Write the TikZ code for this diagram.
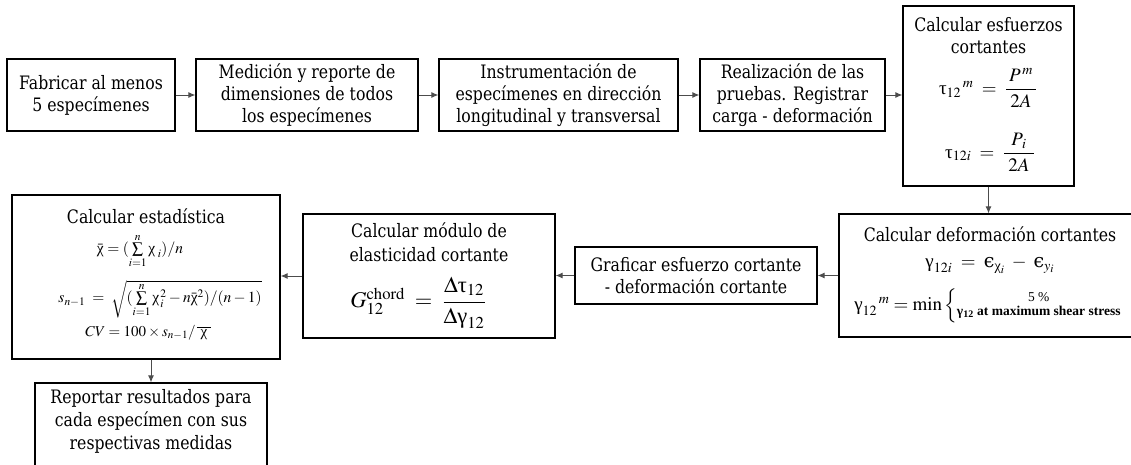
\documentclass[tikz,border=0pt]{standalone}
\usepackage{amsmath}
\usepackage{mathptmx}
\usepackage[no-math]{fontspec}
\setmainfont{DejaVu Serif}[FakeStretch=0.85]
\newfontfamily\grk{Liberation Serif}
\newfontfamily\dvs{DejaVu Serif}
\newcommand{\ug}[1]{\mathord{\text{\grk #1}}}
\newcommand{\ueps}{\mathord{\text{\dvs ϵ}}}
\usetikzlibrary{arrows.meta}
\begin{document}
\begin{tikzpicture}[x=1pt,y=-1pt,
  txt/.style={font=\fontsize{18.5}{22}\selectfont},
  box/.style={draw=black, line width=1.3pt, inner sep=0pt, align=center, txt},
  lbl/.style={inner sep=0pt, align=center, txt},
  frm/.style={inner sep=0pt, align=center, font=\fontsize{19}{22}\selectfont},
  sml/.style={inner sep=0pt, align=center, font=\fontsize{15.5}{17}\selectfont},
  conn/.style={draw=black!70, line width=0.9pt, -{Latex[length=7pt,width=6pt]}}]
\useasboundingbox (0,0) rectangle (1131,464);
% top row
\node[box, minimum width=168pt, minimum height=72pt] (b1) at (91,95) {Fabricar al menos\\5 especímenes};
\node[box, minimum width=222pt, minimum height=72pt] (b2) at (307,95) {Medición y reporte de\\dimensiones de todos\\los especímenes};
\node[box, minimum width=239pt, minimum height=72pt] (b3) at (558.5,95) {Instrumentación de\\especímenes en dirección\\longitudinal y transversal};
\node[box, minimum width=185pt, minimum height=72pt] (b4) at (792.5,95) {Realización de las\\pruebas. Registrar\\carga - deformación};
\node[box, minimum width=171pt, minimum height=180pt] (b5) at (988.5,96) {};
\node[lbl] (t5) at (988.5,36) {Calcular esfuerzos\\cortantes};
\node[frm] (f5a) at (988,88) {$\ug{τ}_{12}{}^{\,m} \;=\; \dfrac{P^{\,m}}{\;2A\;}$};
\node[frm] (f5b) at (990,152) {$\ug{τ}_{12i} \;=\; \dfrac{P_{\,i}}{\;2A\;}$};
% bottom row
\node[box, minimum width=302pt, minimum height=123pt] (b6) at (990,275.5) {};
\node[lbl] (t6) at (990,234) {Calcular deformación cortantes};
\node[frm] (f6a) at (990,265) {$\ug{γ}_{12i} \;=\; \ueps_{\ug{χ}_{i}} \;-\; \ueps_{y_{i}}$};
\node[frm] (f6b) at (988,306) {$\ug{γ}_{12}{}^{\,m} = \min\left\{\vcenter{\hbox{\grk\fontsize{13.5}{14}\selectfont\begin{tabular}{@{}c@{}}5 \%\\ \bfseries γ\textsubscript{12} at maximum shear stress\end{tabular}}}\right.$};
\node[box, minimum width=242pt, minimum height=57pt] (b7) at (696,275.5) {Graficar esfuerzo cortante\\- deformación cortante};
\node[box, minimum width=252pt, minimum height=124pt] (b8) at (429,276) {};
\node[lbl, font=\fontsize{18.5}{24}\selectfont] (t8) at (429,242.5) {Calcular módulo de\\elasticidad cortante};
\node[frm, font=\fontsize{22.5}{24}\selectfont] (f8) at (418,303) {$G_{12}^{\mathrm{chord}} \;=\; \dfrac{\Delta\ug{τ}_{12}}{\Delta\ug{γ}_{12}}$};
\node[box, minimum width=268pt, minimum height=164pt] (b9) at (146,277) {};
\node[lbl] (t9) at (146,216) {Calcular estadística};
\node[sml] (f9a) at (140,251) {$\bar{\ug{χ}} = (\sum\limits_{i=1}^{n}\ug{χ}_{\;i})/n$};
\node[sml] (f9b) at (160,299) {$s_{n-1} \;=\; \sqrt{(\sum\limits_{i=1}^{n}\ug{χ}_{\,i}^{\,2} - n\bar{\ug{χ}}^{2})/(n-1)}$};
\node[sml, font=\fontsize{15}{17}\selectfont] (f9c) at (148,333) {$CV = 100\times s_{n-1}/\,\overline{\;\ug{χ}\;}$};
\node[box, minimum width=232pt, minimum height=97pt] (b10) at (151,431.5) {};
\node[lbl, font=\fontsize{18.5}{23.3}\selectfont] (t10) at (151,421.5) {Reportar resultados para\\cada especímen con sus\\respectivas medidas};
% connectors
\draw[conn] (b1.east) -- (b2.west);
\draw[conn] (b2.east) -- (b3.west);
\draw[conn] (b3.east) -- (b4.west);
\draw[conn] (b4.east) -- (b4.east -| b5.west);
\draw[conn] (b5.south) -- (b5.south |- b6.north);
\draw[conn] (b6.west) -- (b6.west -| b7.east);
\draw[conn] (b7.west) -- (b7.west -| b8.east);
\draw[conn] (b8.west) -- (b8.west -| b9.east);
\draw[conn] (b10.north |- b9.south) -- (b10.north);
\end{tikzpicture}
\end{document}
